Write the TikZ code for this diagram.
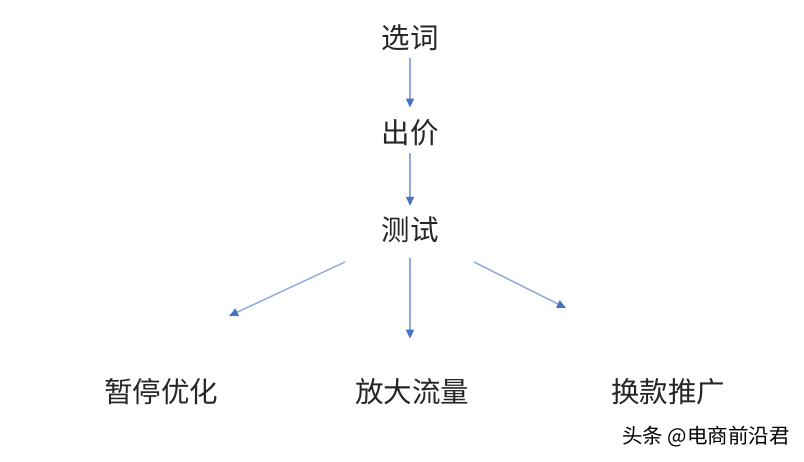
\documentclass[tikz,border=0pt]{standalone}
\usepackage{fontspec}
\setmainfont{Noto Sans CJK SC}
\usetikzlibrary{arrows.meta}
\definecolor{lineblue}{HTML}{8FAADC}
\definecolor{tipblue}{HTML}{4472C4}
\definecolor{txtgray}{HTML}{262626}

\begin{document}
\begin{tikzpicture}[x=1pt, y=-1pt,
    step node/.style={font=\fontsize{28.5}{31}\selectfont, text=txtgray, inner sep=0pt},
    arr/.style={draw=lineblue, line width=1.4pt, -{Triangle[length=9pt, width=8pt, color=tipblue]}}]
            \useasboundingbox[fill=white] (0,0) rectangle (804,462);

            % Nodes
            \node[step node] (xc) at (410, 38) {选词};
            \node[step node] (cj) at (410, 133) {出价};
            \node[step node] (cs) at (410, 230) {测试};
            \node[step node] (zt) at (161, 392) {暂停优化};
            \node[step node] (fd) at (412, 392) {放大流量};
            \node[step node] (hk) at (668, 392) {换款推广};
            \node[font=\fontsize{20.5}{23}\selectfont, text=black, inner sep=0pt] (wm) at (706, 437) {头条 @电商前沿君};

            % Arrow ends
            \coordinate (ls) at (345, 262);
            \coordinate (le) at (229, 316);
            \coordinate (rs) at (474, 262);
            \coordinate (re) at (566, 308);

            % Edges
            \draw[arr, shorten <=7pt, shorten >=12pt] (xc) -- (cj);
            \draw[arr, shorten <=7pt, shorten >=11pt] (cj) -- (cs);
            \draw[arr] (ls) -- (le);
            \draw[arr, shorten <=15pt, shorten >=40pt] (cs) -- (cs |- fd.north);
            \draw[arr] (rs) -- (re);
        \end{tikzpicture}
\end{document}
